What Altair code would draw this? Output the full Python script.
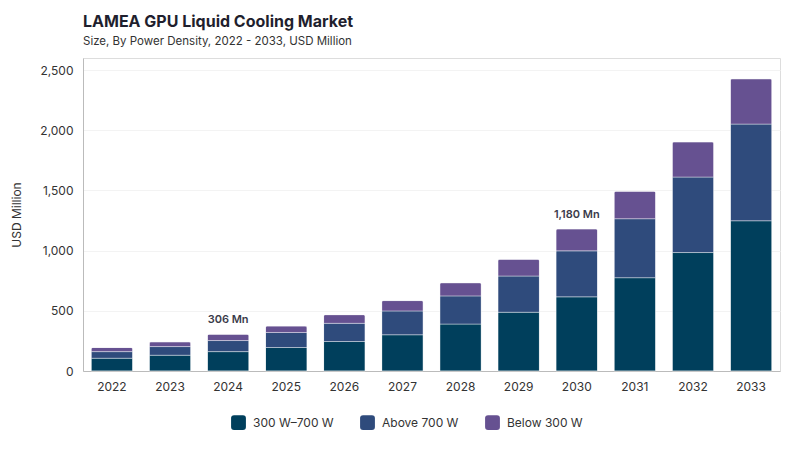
import altair as alt
import pandas as pd

years = ["2022", "2023", "2024", "2025", "2026", "2027", "2028", "2029", "2030", "2031", "2032", "2033"]
series_names = ["300 W–700 W", "Above 700 W", "Below 300 W"]
mid_300_700 = [106, 131, 161, 195, 245, 301, 390, 488, 616, 775, 984, 1248]
above_700 = [55, 72, 92, 125, 151, 198, 234, 301, 382, 490, 627, 803]
below_300 = [34, 39, 53, 53, 72, 86, 109, 139, 182, 229, 292, 376]
colors = ["#003f5c", "#2f4b7c", "#665191"]
labelled_years = ["2024", "2030"]

rows = []
for i, y in enumerate(years):
    for k, (name, vals) in enumerate(zip(series_names, [mid_300_700, above_700, below_300])):
        rows.append({"year": y, "segment": name, "value": vals[i], "order": k})
df = pd.DataFrame(rows)

totals = pd.DataFrame({
    "year": years,
    "total": [a + b + c for a, b, c in zip(mid_300_700, above_700, below_300)],
})
totals = totals[totals["year"].isin(labelled_years)].copy()
totals["label"] = totals["total"].map(lambda v: f"{v:,} Mn")

FONT = "Inter"
rounded = "M -0.6,-1 L 0.6,-1 Q 1,-1 1,-0.6 L 1,0.6 Q 1,1 0.6,1 L -0.6,1 Q -1,1 -1,0.6 L -1,-0.6 Q -1,-1 -0.6,-1 Z"

x_enc = alt.X("year:N", title=None, sort=years,
              scale=alt.Scale(paddingInner=0.285, paddingOuter=0.14),
              axis=alt.Axis(labelAngle=0, labelFont=FONT, labelFontSize=12, labelColor="#333333",
                            domainColor="#bbbbbb", ticks=False, labelPadding=10))

bars = alt.Chart(df).mark_bar(cornerRadiusTopLeft=2, cornerRadiusTopRight=2, stroke="white", strokeWidth=0.4).encode(
    x=x_enc,
    y=alt.Y("value:Q", stack="zero", title="USD Million",
            scale=alt.Scale(domain=[0, 2500]),
            axis=alt.Axis(values=[0, 500, 1000, 1500, 2000, 2500], format=",.0f", labelFont=FONT,
                          labelFontSize=12, labelColor="#333333", titleFont=FONT, titleFontSize=12,
                          titleFontWeight="normal", titleColor="#333333", domainColor="#bbbbbb",
                          ticks=False, gridColor="#f3f3f3", labelPadding=10, titlePadding=16)),
    color=alt.Color("segment:N", sort=series_names,
                    scale=alt.Scale(domain=series_names, range=colors),
                    legend=alt.Legend(orient="none", legendX=148, legendY=357, title=None,
                                      direction="horizontal",
                                      symbolType=rounded, symbolSize=220, symbolStrokeWidth=0,
                                      labelFont=FONT, labelFontSize=12, labelColor="#333333",
                                      columnPadding=26, labelOffset=7)),
    order=alt.Order("order:Q"),
)

labels = alt.Chart(totals).mark_text(dy=-14, font=FONT, fontSize=11, fontWeight=600, color="#3a3a4a").encode(
    x=alt.X("year:N", sort=years),
    y=alt.Y("total:Q"),
    text="label:N",
)

chart = alt.layer(bars, labels).properties(
    width=784, height=434,
    autosize=alt.AutoSizeParams(type="fit", contains="padding"),
    padding={"left": 2, "right": 12, "top": 5, "bottom": 50},
    title=alt.TitleParams("LAMEA GPU Liquid Cooling Market",
                          subtitle="Size, By Power Density, 2022 - 2033, USD Million",
                          anchor="start", frame="group", font=FONT, fontSize=16, fontWeight="bold",
                          color="#1f1f2e", subtitleFont=FONT, subtitleFontSize=11.5,
                          subtitleColor="#333333", offset=11, subtitlePadding=6),
).configure_view(stroke=None).configure(background="white")

chart.save("out.html", embed_options={"renderer": "svg", "actions": False})
